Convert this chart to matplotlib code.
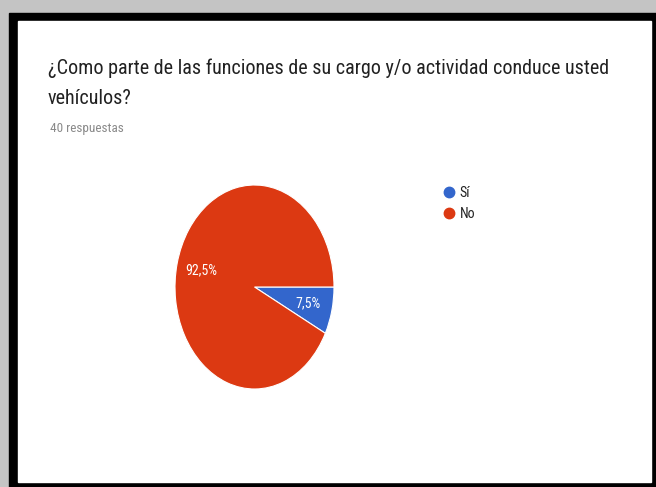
import matplotlib.pyplot as plt
from matplotlib.patches import Rectangle
from matplotlib.lines import Line2D

# ==========================================
# Survey answers
# ==========================================

labels = ["Sí", "No"]
counts = [3, 37]
colors = ["#3366cc", "#dc3912"]

title = "¿Como parte de las funciones de su cargo y/o actividad conduce usted\nvehículos?"
subtitle = f"{sum(counts)} respuestas"

W, H = 656, 487
font = ["Roboto Condensed", "Roboto", "DejaVu Sans"]

fig = plt.figure(figsize=(W / 100, H / 100), dpi=100)
fig.patch.set_facecolor("#c4c4c4")

# black frame and white card, kept behind the axes
fig.patches.append(Rectangle((9 / W, 0), 647 / W, 474 / H,
                             transform=fig.transFigure, color="black", zorder=-2))
fig.patches.append(Rectangle((18 / W, 5 / H), 633 / W, 461 / H,
                             transform=fig.transFigure, color="white", zorder=-1))

# ==========================================
# Header
# ==========================================

# baseline here is the one of the last line
fig.text(48 / W, 1 - 104 / H, title, family=font, fontsize=14.5,
         color="#212121", va="baseline", ha="left", linespacing=1.7)
fig.text(50 / W, 1 - 132 / H, subtitle, family=font, fontsize=9.5,
         color="#8a8a8a", va="baseline", ha="left")

# ==========================================
# Pie (stretched vertically)
# ==========================================

ax = fig.add_axes([175 / W, 98 / H, 159 / W, 204 / H])

wedges, texts, autotexts = ax.pie(
    counts,
    colors=colors,
    startangle=0,
    counterclock=False,
    autopct=lambda p: f"{p:.1f}%".replace(".", ","),
    pctdistance=0.69,
    wedgeprops=dict(edgecolor="white", linewidth=0.8),
    textprops=dict(color="white", fontsize=10, family=font),
)

ax.set_aspect("auto")
ax.set_xlim(-1, 1)
ax.set_ylim(-1, 1)
ax.axis("off")

# ==========================================
# Legend
# ==========================================

handles = [
    Line2D([], [], marker="o", linestyle="none", markersize=7.5,
           markerfacecolor=c, markeredgecolor=c)
    for c in colors
]

fig.legend(
    handles,
    labels,
    loc="upper left",
    bbox_to_anchor=(436 / W, 1 - 179 / H),
    frameon=False,
    prop=dict(family=font, size=10),
    handlelength=0.8,
    handletextpad=0.4,
    labelspacing=0.5,
    borderpad=0,
    labelcolor="#212121",
)

fig.savefig("out.png", dpi=100, facecolor=fig.get_facecolor())
